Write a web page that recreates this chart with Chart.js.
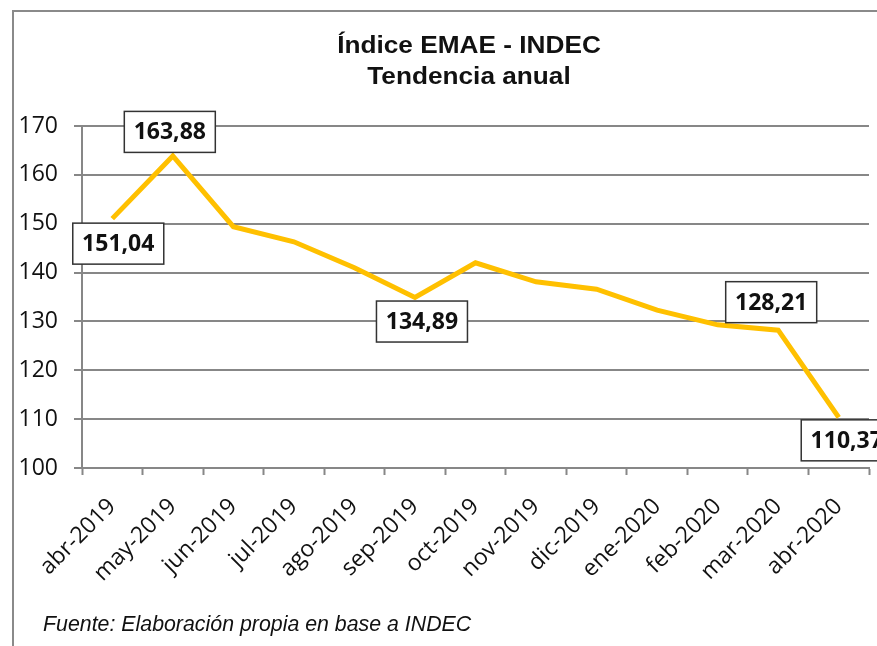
<!DOCTYPE html>
<html>
<head>
<meta charset="utf-8">
<script src="https://cdn.jsdelivr.net/npm/chart.js@4.4.1/dist/chart.umd.min.js"></script>
<style>
    body { margin: 0; background: #fff; overflow: hidden; }
    #frame {
        position: absolute; left: 12px; top: 10px;
        width: 916px; height: 660px;
        border-left: 2px solid #8a8a8a; border-top: 2px solid #8a8a8a;
    }
    #chart-box { position: absolute; left: 0; top: 0; width: 914px; height: 640px; }
    #title {
        position: absolute; left: 0; top: 18px; width: 910px;
        text-align: center; line-height: 31px;
        font-family: 'Liberation Sans', Arial, sans-serif;
        font-weight: bold; font-size: 23px; color: #111;
        transform: scaleX(1.14); transform-origin: center;
    }
    #source {
        position: absolute; left: 29px; top: 599px; line-height: 26px;
        font-family: 'Liberation Sans', Arial, sans-serif;
        font-style: italic; font-size: 22px; color: #111;
        transform: scaleX(0.97); transform-origin: left;
        white-space: nowrap;
    }
</style>
</head>
<body>
<div id="frame">
    <div id="chart-box"><canvas id="my-chart"></canvas></div>
    <div id="title">Índice EMAE - INDEC<br>Tendencia anual</div>
    <div id="source">Fuente: Elaboración propia en base a INDEC</div>
</div>
<script>

let months = ['abr-2019', 'may-2019', 'jun-2019', 'jul-2019', 'ago-2019', 'sep-2019', 'oct-2019',
    'nov-2019', 'dic-2019', 'ene-2020', 'feb-2020', 'mar-2020', 'abr-2020'];
let emaeValues = [151.04, 163.88, 149.4, 146.3, 141.0, 134.89, 142.0, 138.1, 136.6, 132.3, 129.3, 128.21, 110.37];
let yTicks = [100, 110, 120, 130, 140, 150, 160, 170];
// points that get a boxed label
let labelIndexes = [0, 1, 5, 11, 12];

let gridGray = '#878787';

// boxed value labels (excel style)
let boxLabels = {
    id: 'boxLabels',
    afterDatasetsDraw(chart, args, opts) {
        let ctx = chart.ctx;
        let meta = chart.getDatasetMeta(0);
        ctx.save();
        ctx.font = 'bold 23px "Open Sans", sans-serif';
        ctx.textAlign = 'center';
        ctx.textBaseline = 'middle';
        for (let i = 0; i < labelIndexes.length; i++) {
            let idx = labelIndexes[i];
            let pt = meta.data[idx];
            let off = opts.offsets[i];
            let cx = pt.x + off[0];
            let cy = pt.y + off[1];
            let w = 91, h = 41;
            ctx.fillStyle = '#fff';
            ctx.fillRect(cx - w / 2, cy - h / 2, w, h);
            ctx.strokeStyle = '#333';
            ctx.lineWidth = 1.5;
            ctx.strokeRect(cx - w / 2, cy - h / 2, w, h);
            ctx.fillStyle = '#111';
            let txt = emaeValues[idx].toFixed(2).replace('.', ',');
            ctx.fillText(txt, cx, cy + 1);
        }
        ctx.restore();
    }
};

let ctx = document.getElementById('my-chart').getContext('2d');
let emaeChart = new Chart(ctx, {
    type: 'line',
    data: {
        labels: months,
        datasets: [{
            label: 'EMAE',
            data: emaeValues,
            borderColor: '#FFC000',
            borderWidth: 5,
            pointRadius: 0,
            tension: 0,
            borderJoinStyle: 'miter'
        }]
    },
    options: {
        responsive: true,
        maintainAspectRatio: false,
        animation: false,
        layout: { padding: { left: 0, right: 59, top: 114, bottom: 54 } },
        plugins: {
            legend: { display: false },
            tooltip: { enabled: false },
            title: { display: false },
            boxLabels: {
                offsets: [[6, 25], [-3, -24], [7, 24], [-7, -28], [8, 23]]
            }
        },
        scales: {
            x: {
                offset: true,
                grid: {
                    offset: true,
                    drawOnChartArea: false,
                    drawTicks: true,
                    tickLength: 7,
                    tickColor: gridGray,
                    tickWidth: 2
                },
                border: { display: true, color: gridGray, width: 2 },
                ticks: {
                    minRotation: 45,
                    maxRotation: 45,
                    color: '#111',
                    padding: 18,
                    font: { family: "'Open Sans', sans-serif", size: 23 }
                },
                afterFit(scale) { scale.height = 130; }
            },
            y: {
                min: 100,
                max: 170,
                afterBuildTicks(scale) { scale.ticks = yTicks.map(v => ({ value: v })); },
                grid: {
                    color: gridGray,
                    lineWidth: 2,
                    drawTicks: true,
                    tickLength: 8,
                    tickColor: gridGray
                },
                border: { display: true, color: gridGray, width: 2 },
                ticks: {
                    color: '#111',
                    padding: 16,
                    font: { family: "'Open Sans', sans-serif", size: 23 }
                },
                afterFit(scale) { scale.width = 68; }
            }
        }
    },
    plugins: [boxLabels]
});

</script>
</body>
</html>
